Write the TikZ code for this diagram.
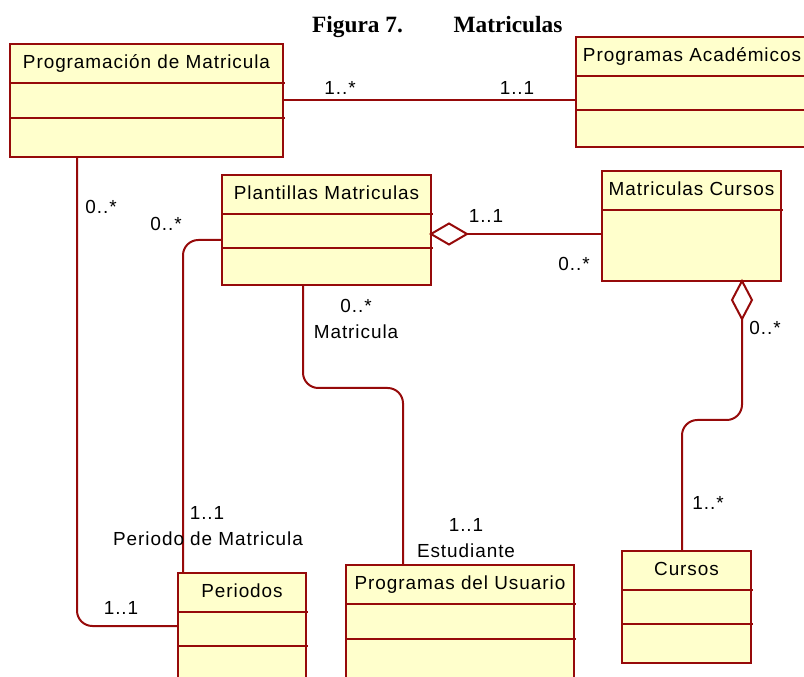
\documentclass[tikz,border=0pt]{standalone}
\usepackage{fontspec}
\usetikzlibrary{fit,calc,shapes.geometric}
\newfontfamily\umlfont[LetterSpace=5]{Liberation Sans}
\newfontfamily\titlefont{Liberation Serif}
\definecolor{umlline}{RGB}{150,10,10}
\definecolor{umlfill}{RGB}{255,255,204}

\tikzset{
  classbox/.style={draw=umlline, fill=umlfill, line width=1.5pt, inner sep=0pt,
                   outer sep=0pt},
  classline/.style={draw=umlline, line width=1.5pt},
  classname/.style={font=\umlfont\fontsize{14.2}{17}\selectfont, inner sep=0pt,
                    text height=10.2pt, text depth=0pt},
  lbl/.style={font=\umlfont\fontsize{14.2}{17}\selectfont, inner sep=0pt,
              text height=10.2pt, text depth=0pt},
  assoc/.style={draw=umlline, line width=1.5pt, rounded corners=11.5pt},
  aggr/.style={shape=diamond, draw=umlline, fill=white, line width=1.5pt,
               inner sep=0pt, outer sep=0pt},
  figtitle/.style={font=\titlefont\bfseries\fontsize{17.5}{20}\selectfont,
                   inner sep=0pt, text height=11.6pt, text depth=0pt},
}

% \umlclass{name}{x1}{y1}{x2}{y2}{divider ys}{title y}{title}
\newcommand\umlclass[8]{%
  \node[classbox, fit={(#2,#3) (#4,#5)}] (#1) {};
  \foreach \d in {#6} { \draw[classline] (#2,\d) -- ({#4+2},\d); }
  \node[classname] (#1-name) at ({(#2+#4)/2},#7) {#8};
}

\begin{document}
\begin{tikzpicture}[x=0.75pt, y=-0.75pt]
\useasboundingbox (0,0) rectangle (804,677);
\clip (0,0) rectangle (804,677);

% caption
\node[figtitle] (fig) at (357.5,24.5) {Figura 7.};
\node[figtitle] (mat) at (508,24.5) {Matriculas};

% classes
\umlclass{pm}{10}{44}{283}{157}{83,118}{61.5}{Programación de Matricula}
\umlclass{pa}{576}{37}{808}{147}{76,110}{54.5}{Programas Académicos}
\umlclass{pt}{222}{175}{431}{285}{214,248}{192.5}{Plantillas Matriculas}
\umlclass{mc}{602}{171}{781}{281}{210}{188.5}{Matriculas Cursos}
\umlclass{cu}{622}{551}{751}{663}{590,624}{568.5}{Cursos}
\umlclass{pu}{346}{565}{574}{700}{604,639}{582.5}{Programas del Usuario}
\umlclass{pe}{178}{573}{306}{700}{612,646}{590.5}{Periodos}

% aggregation diamonds
\node[aggr, minimum width=27pt, minimum height=15.75pt, anchor=west]
  (dg1) at ($(pt.north east)+(0,59)$) {};
\node[aggr, minimum width=15pt, minimum height=28.5pt, anchor=north]
  (dg2) at ($(mc.south west)+(140,0)$) {};

% associations
\draw[assoc] (pm.east) -- (pm.east -| pa.west);
\draw[assoc] (dg1.east) -- (dg1.east -| mc.west);
\draw[assoc] (dg2.south) -- (742,420) -- (682,420) -- ($(cu.north west)+(60,0)$);
\draw[assoc] ($(pt.south west)+(81,0)$) -- (303,388) -- (403,388)
             -- ($(pu.north west)+(57,0)$);
\draw[assoc] ($(pt.north west)+(0,65)$) -- (183,240) -- ($(pe.north west)+(5,0)$);
\draw[assoc] ($(pm.south west)+(67,0)$) -- (77,626) -- ($(pe.north west)+(0,53)$);

% multiplicities and role names
\node[lbl] (m1) at (340,88) {1..*};
\node[lbl] (m2) at (517,88) {1..1};
\node[lbl] (m3) at (101,207) {0..*};
\node[lbl] (m4) at (166,224) {0..*};
\node[lbl] (m5) at (486,216) {1..1};
\node[lbl] (m6) at (574,264) {0..*};
\node[lbl] (m7) at (356,306) {0..*};
\node[lbl] (r1) at (356,332) {Matricula};
\node[lbl] (m8) at (765,328) {0..*};
\node[lbl] (m9) at (708,503) {1..*};
\node[lbl] (m10) at (466,525) {1..1};
\node[lbl] (r2) at (466,551) {Estudiante};
\node[lbl] (m11) at (207,513) {1..1};
\node[lbl] (r3) at (208,539) {Periodo de Matricula};
\node[lbl] (m12) at (121,608) {1..1};
\end{tikzpicture}
\end{document}
